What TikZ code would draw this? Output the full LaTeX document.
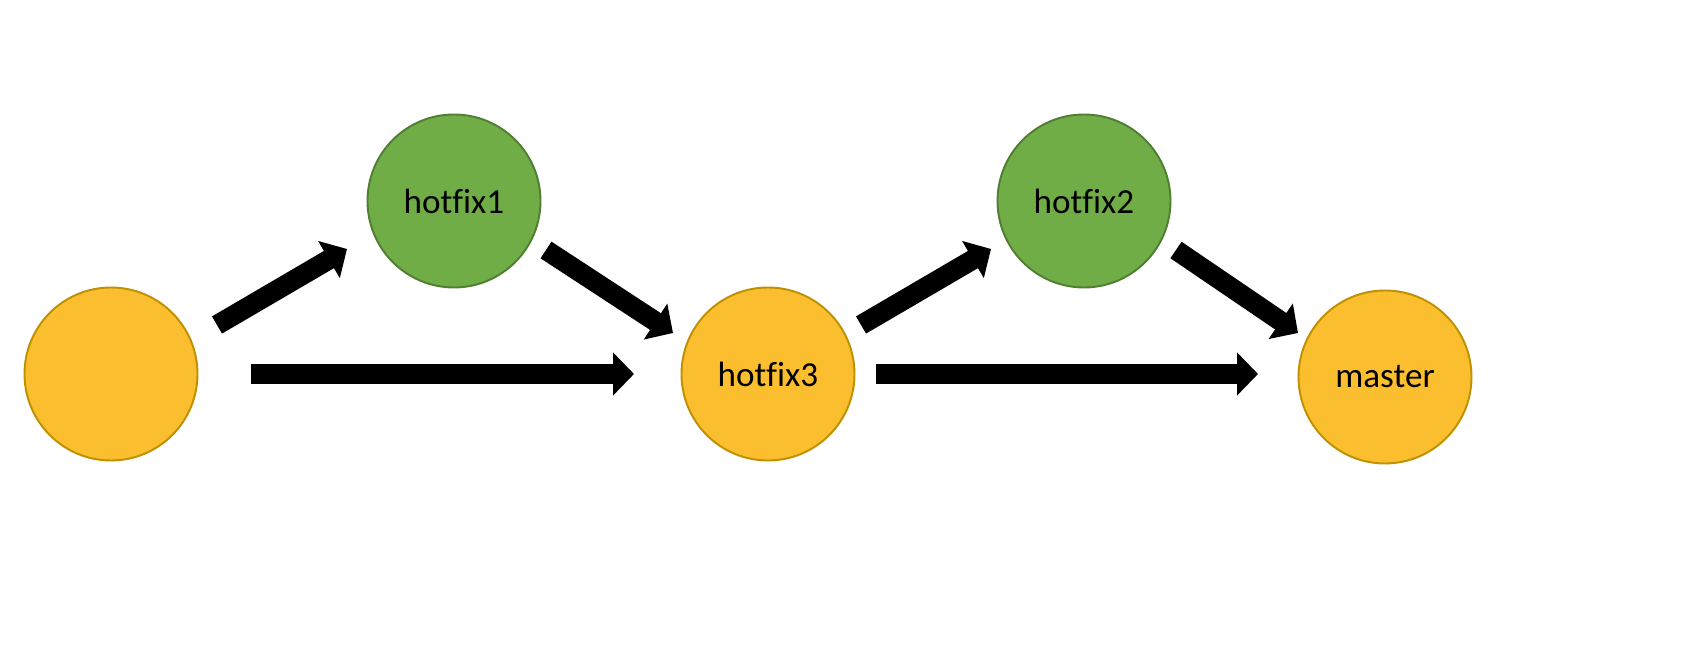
\documentclass[tikz,border=0pt]{standalone}
\usepackage{fontspec}
\setmainfont[Ligatures=CommonOff]{Carlito}
\usetikzlibrary{arrows.meta}
\definecolor{ylwfill}{HTML}{FBBE2E}
\definecolor{ylwline}{HTML}{BF9000}
\definecolor{grnfill}{HTML}{70AD47}
\definecolor{grnline}{HTML}{507E32}
\tikzset{
  commit/.style={circle, minimum size=173*0.02cm, inner sep=0pt, line width=1.1pt,
    font=\fontsize{20}{24}\selectfont, text=black},
  ycommit/.style={commit, fill=ylwfill, draw=ylwline},
  gcommit/.style={commit, fill=grnfill, draw=grnline},
  blk/.style={line width=11.34pt, -{Triangle[length=11.9pt,width=23.8pt]}, black}
}
\begin{document}
\begin{tikzpicture}[x=0.02cm,y=0.02cm]
\useasboundingbox (0,0) rectangle (1708,652);
\node[ycommit] (A)  at (111,278) {};
\node[gcommit] (H1) at (454,451) {hotfix1};
\node[ycommit] (H3) at (768,278) {hotfix3};
\node[gcommit] (H2) at (1084,451) {hotfix2};
\node[ycommit] (M)  at (1385,275) {master};
\draw[blk] ([shift={(140,0)}]A.center) -- ([shift={(-134,0)}]H3.center);
\draw[blk] ([shift={(108,0)}]H3.center) -- ([shift={(-127,3)}]M.center);
\draw[blk] ([shift={(106,49)}]A.center) -- ([shift={(-107,-48)}]H1.center);
\draw[blk] ([shift={(92,-49)}]H1.center) -- ([shift={(-95,41)}]H3.center);
\draw[blk] ([shift={(93,49)}]H3.center) -- ([shift={(-93,-48)}]H2.center);
\draw[blk] ([shift={(92,-49)}]H2.center) -- ([shift={(-87,44)}]M.center);
\end{tikzpicture}
\end{document}
